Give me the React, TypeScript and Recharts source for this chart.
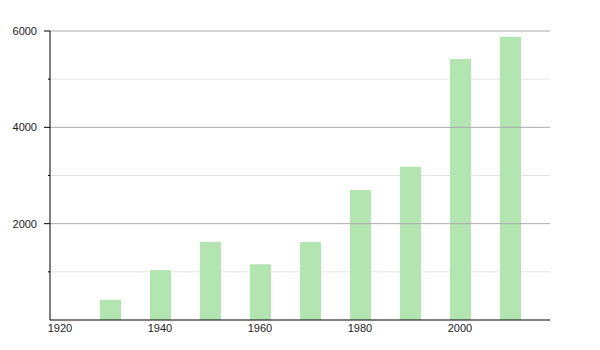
import { Bar, BarChart, ReferenceLine, CartesianGrid, XAxis, YAxis } from "recharts";

const years = [1930, 1940, 1950, 1960, 1970, 1980, 1990, 2000, 2010];
const values = [420, 1040, 1620, 1160, 1620, 2700, 3180, 5420, 5880];
const xTicks = [1920, 1940, 1960, 1980, 2000];
const yTicks = [0, 1000, 2000, 3000, 4000, 5000, 6000];
const majorLines = [2000, 4000, 6000];

const data = years.map((y, i) => ({ year: y, value: values[i] }));

const font = "Liberation Sans, Arial, sans-serif";

function YTick(props: any) {
  const { x, y, payload } = props;
  const v = payload.value;
  if (v === 0) return null;
  const major = v % 2000 === 0;
  return (
    <g>
      <line x1={x - (major ? 6 : 2)} x2={x} y1={y} y2={y} stroke="#000" />
      {major && (
        <text x={x - 13} y={y} dy="0.35em" textAnchor="end" fontSize={11} fontFamily={font} fill="#222">
          {v}
        </text>
      )}
    </g>
  );
}

export default function App() {
  return (
    <div style={{ position: "absolute", left: 0, top: 0, background: "#fff" }}>
      <BarChart
        width={600}
        height={350}
        data={data}
        margin={{ top: 31, right: 50, left: 0, bottom: 0 }}
      >
        <CartesianGrid vertical={false} stroke="#e4e4e4" horizontalValues={[1000, 3000, 5000]} />
        {majorLines.map((v) => (
          <ReferenceLine key={v} y={v} stroke="#aaa" />
        ))}
        <XAxis
          dataKey="year"
          type="number"
          domain={[1918, 2018]}
          ticks={xTicks}
          allowDataOverflow
          tickLine={false}
          tickSize={0}
          tickMargin={4}
          height={30}
          axisLine={{ stroke: "#000" }}
          tick={{ fontSize: 11, fontFamily: font, fill: "#222" }}
        />
        <YAxis
          domain={[0, 6000]}
          ticks={yTicks}
          width={50}
          tickLine={false}
          tickSize={0}
          tickMargin={0}
          axisLine={{ stroke: "#000" }}
          tick={<YTick />}
        />
        <Bar dataKey="value" fill="#b3e5b1" barSize={21} isAnimationActive={false} />
      </BarChart>
    </div>
  );
}
